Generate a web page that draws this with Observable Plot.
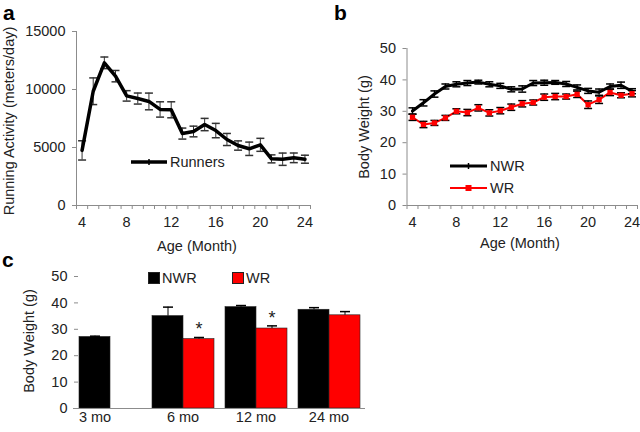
<!DOCTYPE html>
<html><head><meta charset="utf-8">
<script src="https://cdn.jsdelivr.net/npm/d3@7"></script>
<script src="https://cdn.jsdelivr.net/npm/@observablehq/plot@0.6"></script>
<style>
body{margin:0;background:#fff;}
#root{position:relative;width:640px;height:432px;font-family:"Liberation Sans",Arial,sans-serif;color:#222;overflow:hidden;background:#fff}
.abs{position:absolute;white-space:nowrap;line-height:1}
.letter{font-weight:bold;font-size:21px;color:#000;line-height:1.2}
.t{font-size:14.5px}
.ctr{transform:translate(-50%,-50%)}
.rot{transform:translate(-50%,-50%) rotate(-90deg)}
svg{overflow:visible}
</style></head><body><div id="root"></div>
<script>
// ---------- data ----------
const months = [4,5,6,7,8,9,10,11,12,13,14,15,16,17,18,19,20,21,22,23,24];
const runners    = [4750,9850,12300,11150,9450,9220,8970,8280,8250,6200,6380,6980,6460,5690,5170,4890,5230,4020,3990,4110,3990];
const runnersErr = [830,1150,500,490,450,475,720,660,690,475,460,530,620,520,400,575,560,345,530,415,345];
const nwrWeight    = [30.1,32.7,35.5,37.9,38.6,39.0,39.3,38.6,38.1,37.0,37.1,39.0,39.1,39.2,38.7,37.6,36.5,36.1,37.9,38.3,36.4];
const nwrWeightErr = [1.0,1.0,1.0,0.8,0.8,0.8,0.6,0.8,0.8,0.8,1.0,0.8,0.8,0.6,0.8,0.8,0.8,1.0,0.8,1.0,0.8];
const wrWeight     = [28.1,25.8,26.3,27.9,30.0,29.6,31.1,29.5,30.2,31.3,32.4,32.8,34.5,34.7,34.7,35.4,32.1,33.7,36.0,35.1,35.6];
const wrWeightErr  = [1.0,1.0,0.8,0.8,0.8,1.0,1.0,1.0,1.0,1.0,1.0,0.8,1.0,1.0,0.8,1.0,1.2,1.2,1.0,0.8,1.0];
const ageTicks = [4,8,12,16,20,24];
const activityTicks = [0,5000,10000,15000];
const weightTicks = [0,10,20,30,40,50];
const groups = ["3 mo","6 mo","12 mo","24 mo"];
const nwrGroup    = [27.1,35.0,38.4,37.4];
const nwrGroupErr = [0.3,3.4,0.6,0.8];
const wrGroup     = [null,26.3,30.3,35.3];
const wrGroupErr  = [null,0.6,1.0,1.4];
const significant = [false,true,true,false];
const seriesNames = ["NWR","WR"];
const seriesColors = ["#000000","#ff0000"];
const runnersLabel = "Runners";

// ---------- helpers ----------
const root = document.getElementById("root");
const axisGray = "#8c8c8c";
const errColor = "#333";
const plain = d => String(d);
const font = {fontFamily:"'Liberation Sans', Arial, sans-serif", fontSize:"14.5px", color:"#222", background:"transparent", overflow:"visible"};
const cap = {draw(ctx, size){const h = Math.sqrt(size/Math.PI); ctx.moveTo(-h,0); ctx.lineTo(h,0);}};
const boundaries = d3.range(months[0]-0.5, months[months.length-1]+1, 1);
function place(node, left, top){
  node.style.position = "absolute"; node.style.left = left+"px"; node.style.top = top+"px";
  root.appendChild(node);
}
function label(text, x, y, cls){
  const d = document.createElement("div");
  d.className = "abs " + cls; d.textContent = text;
  d.style.left = x+"px"; d.style.top = y+"px";
  root.appendChild(d); return d;
}
function swatchLine(x, y, w, color, sw, marker){
  const s = d3.create("svg").attr("width", w).attr("height", 12)
    .style("position","absolute").style("left", x+"px").style("top", (y-6)+"px");
  s.append("line").attr("x1",0).attr("x2",w).attr("y1",6).attr("y2",6).attr("stroke",color).attr("stroke-width",sw);
  if (marker === "square") s.append("rect").attr("x",w/2-3).attr("y",3).attr("width",6).attr("height",6).attr("fill",color);
  else s.append("line").attr("x1",w/2).attr("x2",w/2).attr("y1",3).attr("y2",9).attr("stroke",color).attr("stroke-width",1.5);
  root.appendChild(s.node());
}

// ---------- panel a ----------
const dataA = months.map((m,i)=>({month:m, value:runners[i], err:runnersErr[i]}));
const plotA = Plot.plot({
  width:320, height:232, marginLeft:76, marginRight:10, marginTop:31, marginBottom:27,
  style:font,
  x:{domain:[boundaries[0], boundaries[boundaries.length-1]]},
  y:{domain:[0,15000]},
  marks:[
    Plot.axisX(boundaries, {tickSize:4, stroke:axisGray, tickFormat:()=>"", label:null}),
    Plot.axisX(ageTicks, {tickSize:0, tickPadding:11, tickFormat:plain, label:null}),
    Plot.axisY(activityTicks, {tickSize:4, tickPadding:7, stroke:axisGray, tickFormat:plain, label:null}),
    Plot.ruleY([0], {stroke:axisGray}),
    Plot.ruleX([boundaries[0]], {stroke:axisGray}),
    Plot.ruleX(dataA, {x:"month", y1:d=>d.value-d.err, y2:d=>d.value+d.err, stroke:errColor}),
    Plot.dot(dataA, {x:"month", y:d=>d.value+d.err, symbol:cap, r:4, stroke:errColor, fill:"none"}),
    Plot.dot(dataA, {x:"month", y:d=>d.value-d.err, symbol:cap, r:4, stroke:errColor, fill:"none"}),
    Plot.line(dataA, {x:"month", y:"value", stroke:"black", strokeWidth:3.5})
  ]
});
place(plotA, 0, 0);

// ---------- panel b ----------
const dataB = months.flatMap((m,i)=>[
  {month:m, series:seriesNames[0], value:nwrWeight[i], err:nwrWeightErr[i]},
  {month:m, series:seriesNames[1], value:wrWeight[i], err:wrWeightErr[i]}
]);
const ofSeries = s => dataB.filter(d=>d.series===s);
const plotB = Plot.plot({
  width:320, height:232, marginLeft:86.5, marginRight:3, marginTop:48, marginBottom:27,
  style:font,
  x:{domain:[boundaries[0], boundaries[boundaries.length-1]]},
  y:{domain:[0,50]},
  marks:[
    Plot.axisX(boundaries, {tickSize:4, stroke:axisGray, tickFormat:()=>"", label:null}),
    Plot.axisX(ageTicks, {tickSize:0, tickPadding:11, tickFormat:plain, label:null}),
    Plot.axisY(weightTicks, {tickSize:4, tickPadding:7, stroke:axisGray, tickFormat:plain, label:null}),
    Plot.ruleY([0], {stroke:axisGray}),
    Plot.ruleX([boundaries[0]], {stroke:axisGray}),
    Plot.line(ofSeries(seriesNames[0]), {x:"month", y:"value", stroke:seriesColors[0], strokeWidth:3}),
    Plot.line(ofSeries(seriesNames[1]), {x:"month", y:"value", stroke:seriesColors[1], strokeWidth:2}),
    Plot.ruleX(dataB, {x:"month", y1:d=>d.value-d.err, y2:d=>d.value+d.err, stroke:"black", strokeWidth:1.2}),
    Plot.dot(dataB, {x:"month", y:d=>d.value+d.err, symbol:cap, r:4, stroke:"black", strokeWidth:1.5, fill:"none"}),
    Plot.dot(dataB, {x:"month", y:d=>d.value-d.err, symbol:cap, r:4, stroke:"black", strokeWidth:1.5, fill:"none"}),
    Plot.dot(ofSeries(seriesNames[1]), {x:"month", y:"value", symbol:"square", r:3, fill:seriesColors[1]})
  ]
});
place(plotB, 320, 0);

// ---------- panel c ----------
const dataC = [];
groups.forEach((g,i)=>{
  dataC.push({group:g, series:seriesNames[0], value:nwrGroup[i], err:nwrGroupErr[i], sig:false});
  if (wrGroup[i] != null) dataC.push({group:g, series:seriesNames[1], value:wrGroup[i], err:wrGroupErr[i], sig:significant[i]});
});
const groupsBoth = groups.filter((g,i)=>wrGroup[i]!=null);
const groupsSingle = groups.filter((g,i)=>wrGroup[i]==null);
const plotC = Plot.plot({
  width:372, height:172, marginLeft:72, marginRight:6, marginTop:16, marginBottom:24,
  style:font,
  fx:{domain:groups, paddingInner:0.137, paddingOuter:0.082, axis:null, label:null},
  x:{domain:seriesNames, padding:0, axis:null},
  y:{domain:[0,50]},
  color:{domain:seriesNames, range:seriesColors},
  marks:[
    Plot.axisY(weightTicks, {tickSize:4, tickPadding:7, stroke:axisGray, tickFormat:plain, label:null}),
    Plot.barY(dataC, {fx:"group", x:"series", y:"value", fill:"series", stroke:"#222", strokeWidth:0.6}),
    Plot.ruleX(dataC, {fx:"group", x:"series", y1:"value", y2:d=>d.value+d.err, stroke:"black"}),
    Plot.dot(dataC, {fx:"group", x:"series", y:d=>d.value+d.err, symbol:cap, r:5, stroke:"black", fill:"none"}),
    Plot.text(dataC.filter(d=>d.sig), {fx:"group", x:"series", y:d=>d.value+d.err, text:()=>"*", dy:-8, fontSize:18}),
    Plot.ruleY([0], {stroke:axisGray, insetLeft:-5, insetRight:-5}),
    Plot.text(groupsBoth, {fx:d=>d, text:d=>d, frameAnchor:"bottom", lineAnchor:"top", dy:3}),
    Plot.text(groupsSingle, {fx:d=>d, x:()=>seriesNames[0], text:d=>d, frameAnchor:"bottom", lineAnchor:"top", dy:3})
  ]
});
place(plotC, 0, 260);

// ---------- titles, letters, legends ----------
label("a", 3, 0, "letter");
label("b", 334, 0, "letter");
label("c", 2, 247, "letter");
label("Running Activity (meters/day)", 9, 121, "t rot");
label("Age (Month)", 197, 246, "t ctr");
label("Body Weight (g)", 364, 127, "t rot");
label("Age (Month)", 520, 243, "t ctr");
label("Body Weight (g)", 29, 341, "t rot");

// legend a
swatchLine(131, 162, 36, "#000", 3.5, "tick");
label(runnersLabel, 170, 155, "t");
// legend b
swatchLine(450, 166, 37, seriesColors[0], 3, "tick");
label(seriesNames[0], 490, 159, "t");
swatchLine(450, 188, 37, seriesColors[1], 2, "square");
label(seriesNames[1], 490, 181, "t");
// legend c
const legendCx = [148, 232];
seriesNames.forEach((s,i)=>{
  const sq = document.createElement("div");
  sq.className = "abs";
  sq.style.cssText += `left:${legendCx[i]}px;top:272px;width:12px;height:12px;background:${seriesColors[i]};box-sizing:border-box;border:0.6px solid #222;`;
  root.appendChild(sq);
  label(s, legendCx[i]+14, 271, "t");
});
</script></body></html>
